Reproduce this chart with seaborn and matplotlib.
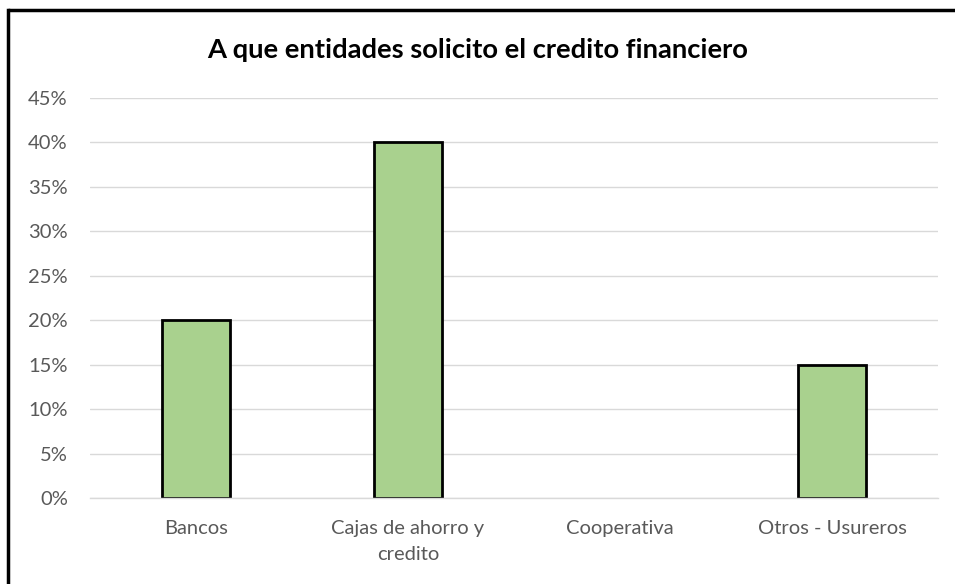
import matplotlib
matplotlib.use("Agg")
import matplotlib.pyplot as plt
import seaborn as sns
import pandas as pd
from matplotlib.ticker import PercentFormatter, MultipleLocator
from matplotlib.lines import Line2D

categories = ["Bancos", "Cajas de ahorro y\ncredito", "Cooperativa", "Otros - Usureros"]
values = [0.20, 0.40, 0.0, 0.15]
title = "A que entidades solicito el credito financiero"

df = pd.DataFrame({"cat": categories, "val": values})

sns.set_theme(style="white")
plt.rcParams['font.family'] = ['Lato', 'DejaVu Sans']

W, H = 955, 584
fig = plt.figure(figsize=(W/100, H/100), dpi=100)
fig.patch.set_facecolor("white")
fig.patch.set_linewidth(0)
ax = fig.add_axes([90/W, 1-498/H, (938-90)/W, (498-98)/H])

sns.barplot(data=df, x="cat", y="val", ax=ax, color="#A9D18E",
            edgecolor="black", linewidth=2.0, width=0.32, saturation=1)
for p, v in zip(ax.patches, values):
    if v == 0:
        p.set_linewidth(0)

ax.set_ylim(0, 0.45)
ax.set_xlim(-0.5, 3.5)
ax.yaxis.set_major_locator(MultipleLocator(0.05))
ax.yaxis.set_major_formatter(PercentFormatter(1.0, decimals=0))
ax.grid(axis="y", color="#D9D9D9", linewidth=1)
ax.set_axisbelow(True)
for s in ["top", "right", "left"]:
    ax.spines[s].set_visible(False)
ax.spines["bottom"].set_color("#D9D9D9")
ax.spines["bottom"].set_linewidth(1)
ax.set_xlabel("")
ax.set_ylabel("")
ax.tick_params(axis="both", length=0, labelsize=14.5, colors="#595959")
ax.tick_params(axis="y", pad=16)
ax.tick_params(axis="x", pad=16)
for lbl in ax.get_xticklabels():
    lbl.set_linespacing(1.62)

fig.text(0.5, 1-50/H, title, ha="center", va="center", fontsize=19.7,
         fontweight="bold", color="black")

fig.add_artist(Line2D([8/W, 1.05], [1-10/H, 1-10/H], transform=fig.transFigure,
                      color="black", linewidth=2.5, solid_capstyle="butt"))
fig.add_artist(Line2D([8/W, 8/W], [-0.05, 1-10/H], transform=fig.transFigure,
                      color="black", linewidth=2.5, solid_capstyle="projecting"))

fig.savefig("out.png", dpi=100, facecolor="white")
